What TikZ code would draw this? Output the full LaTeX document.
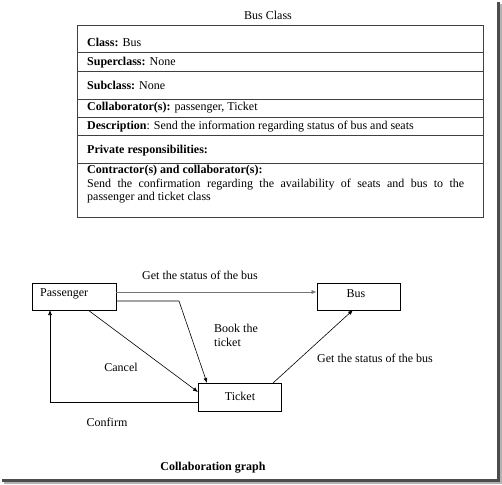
\documentclass[tikz,border=0pt]{standalone}
\usepackage{fontspec}
\setmainfont{Liberation Serif}
\usetikzlibrary{arrows.meta}
\begin{document}
\begin{tikzpicture}[x=1pt,y=-1pt,
  txt/.style={font=\fontsize{12}{13.5}\selectfont, inner sep=0pt},
  rowtxt/.style={txt, anchor=west},
  box/.style={draw, line width=0.8pt},
  conn/.style={draw, line width=0.6pt, -{Latex[length=5pt,width=4pt]}},
  rule/.style={line width=0.9pt, draw=black!75}]
\useasboundingbox (0,0) rectangle (502,484);
% frame shadow
\fill[black!70] (497,2) rectangle (500,482);
\fill[black!70] (2,479) rectangle (500,482);
\fill[black!30] (500,4) rectangle (501.5,483.5);
\fill[black!30] (4,482) rectangle (501.5,483.5);
% title
\node[txt] (title) at (268,15) {Bus Class};
% table
\draw[rule] (77,25) rectangle (483,217);
\foreach \yy in {52,71,99,117,135,163} \draw[rule] (77,\yy) -- (483,\yy);
\node[rowtxt] (r1) at (87,42) {\textbf{Class:} Bus};
\node[rowtxt] (r2) at (87,63) {\textbf{Superclass:} None};
\node[rowtxt] (r3) at (87,85) {\textbf{Subclass:} None};
\node[rowtxt] (r4) at (87,108) {\textbf{Collaborator(s):} passenger, Ticket};
\node[rowtxt] (r5) at (87,127) {\textbf{Description}: Send the information regarding status of bus and seats};
\node[rowtxt] (r6) at (87,151) {\textbf{Private responsibilities:}};
\node[txt, anchor=north west, text width=377pt, align=justify] (r7) at (87,165)
  {\textbf{Contractor(s) and collaborator(s):}\\
   Send the confirmation regarding the availability of seats and bus to the\linebreak passenger and ticket class};
% graph
\node[box, minimum width=84pt, minimum height=27pt, inner sep=0pt] (pass) at (74,296.5) {};
\node[txt, anchor=west] (passl) at (40,294) {Passenger};
\node[box, minimum width=83pt, minimum height=27pt, inner sep=0pt] (bus) at (358.5,296.5) {};
\node[txt] (busl) at (356,294) {Bus};
\node[box, minimum width=83pt, minimum height=28pt, inner sep=0pt] (tick) at (239.5,397) {};
\node[txt] (tickl) at (240,396) {Ticket};
\coordinate (p1) at (pass.east |- 0,292);
\coordinate (b1) at (bus.west |- 0,292);
\draw[conn, draw=black!55] (p1) -- (b1);
\coordinate (p2) at (pass.east |- 0,301);
\coordinate (k2) at (179,301);
\coordinate (t2) at (207,383);
\draw[conn] (p2) -- (k2) -- (t2);
\coordinate (p3) at (88,310);
\coordinate (t3) at (198,392);
\draw[conn] (p3) -- (t3);
\coordinate (t4) at (198,402);
\coordinate (k4) at (50,402);
\coordinate (p4) at (50,310);
\draw[conn] (t4) -- (k4) -- (p4);
\coordinate (t5) at (273,383);
\coordinate (b5) at (353,310);
\draw[conn] (t5) -- (b5);
\node[txt] (l1) at (200,275) {Get the status of the bus};
\node[txt, align=left, anchor=north west] (l2) at (214,324) {Book the\\ticket};
\node[txt] (l3) at (121,367) {Cancel};
\node[txt] (l4) at (107,422) {Confirm};
\node[txt] (l5) at (375,358) {Get the status of the bus};
\node[txt, font=\fontsize{12}{13.5}\selectfont\bfseries] (cap) at (213,468) {Collaboration graph};
\end{tikzpicture}
\end{document}
